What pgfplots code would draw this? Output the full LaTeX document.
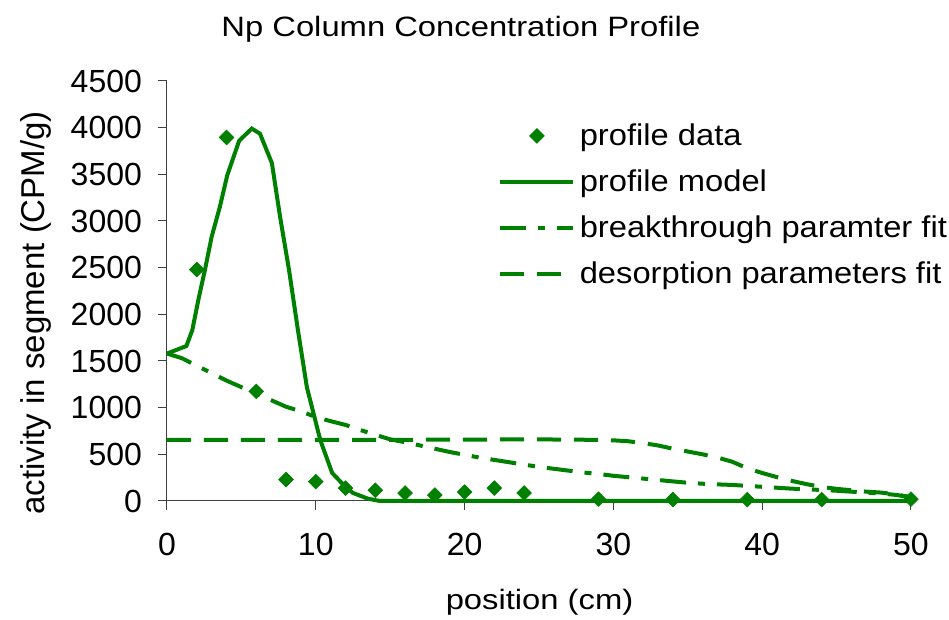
\documentclass[border=0pt]{standalone}
\usepackage{fontspec}
\setmainfont{Liberation Sans}
\newfontfamily\titlefont[FakeStretch=1.17]{Liberation Sans}
\newfontfamily\legfont[FakeStretch=1.09]{Liberation Sans}
\usepackage{pgfplots}
\pgfplotsset{compat=1.18}
\definecolor{xlgreen}{RGB}{0,128,0}
\begin{document}
\begin{tikzpicture}
\useasboundingbox (0,0) rectangle (474.5pt,310pt);
\begin{axis}[
  at={(83.5pt,59.5pt)}, anchor=south west,
  scale only axis, width=372pt, height=210pt,
  xmin=0, xmax=50, ymin=0, ymax=4500,
  axis lines=left,
  axis line style={-, draw=black!75, line width=0.5pt},
  xtick={0,10,...,50}, ytick={0,500,...,4500},
  tick align=outside, major tick length=4.5pt,
  tick style={draw=black!75, line width=0.5pt},
  /pgf/number format/assume math mode=true,
  /pgf/number format/1000 sep={},
  scaled y ticks=false,
  ticklabel style={font=\fontsize{16}{19}\selectfont},
  xticklabel style={yshift=-8pt},
  yticklabel style={xshift=-4.5pt},
  clip=false,
  every axis title shift=0pt,
  title={Np Column Concentration Profile},
  title style={at={(0.395,1.105)}, anchor=base, yshift=0pt, font=\titlefont\fontsize{14}{17}\selectfont},
  xlabel={position (cm)},
  xlabel style={at={(0.5007,-0.2595)}, anchor=base, font=\titlefont\fontsize{14}{17}\selectfont},
  ylabel={activity in segment (CPM/g)},
  ylabel style={at={(-0.176,0.448)}, anchor=center, font=\fontsize{16.5}{19}\selectfont},
  legend cell align=left,
  reverse legend,
  legend image code/.code={\draw[mark repeat=2,mark phase=2,#1] plot coordinates {(0pt,4.75pt)(18.25pt,4.75pt)(36.5pt,4.75pt)};},
  legend style={draw=none, fill=none, at={(0.4449,0.9024)}, anchor=north west,
    font=\legfont\fontsize{15}{18}\selectfont, row sep=0pt, column sep=2.2pt, inner sep=0pt,
    nodes={inner xsep=0pt, inner ysep=0pt, text height=11.5pt, text depth=11.5pt}},
]
% desorption parameters fit
\addplot[xlgreen, line width=2pt, dash pattern=on 12pt off 6.5pt] coordinates {
(0,655)(5,655)(10,655)(15,655)(20,658)(25,660)(29,655)(30,650)(31,640)(32,620)(33,595)
(34,560)(35,530)(36,500)(37,465)(38,420)(39,350)(40,300)(41,255)(42,215)(43,180)
(44,150)(45,130)(46,115)(47,100)(48,90)(49,70)(50,40)};
\addlegendentry{desorption parameters fit}
% breakthrough parameter fit
\addplot[xlgreen, line width=2pt, dash pattern=on 13pt off 6pt on 3.5pt off 6pt] coordinates {
(0,1580)(1,1530)(2,1450)(3,1370)(4,1290)(5,1220)(6,1150)(7,1080)(8,1010)(9,960)
(10,900)(11,855)(12,815)(13,760)(14,710)(15,660)(16,630)(17,595)(18,560)(19,525)
(20,495)(21,465)(22,440)(23,415)(24,390)(25,365)(26,345)(27,325)(28,305)(29,290)
(30,270)(31,255)(32,240)(33,225)(34,210)(35,195)(36,185)(37,178)(38,172)(39,162)
(40,152)(41,142)(42,132)(43,125)(44,118)(45,110)(46,100)(47,90)(48,80)(49,65)(50,40)};
\addlegendentry{breakthrough paramter fit}
% profile model
\addplot[xlgreen, line width=2pt] coordinates {
(0,1580)(1.3,1660)(1.7,1830)(2.1,2150)(2.55,2476)(3,2830)(3.55,3150)(4.05,3490)
(4.85,3860)(5.7,3990)(6.25,3935)(7.05,3620)(7.6,3045)(8.2,2476)(8.8,1830)(9.4,1220)
(10.3,654)(11.1,300)(12.0,150)(12.5,86)(13.5,25)(14.3,0)(20,0)(30,0)(40,0)(50,0)};
\addlegendentry{profile model}
% profile data
\addplot[only marks, mark=square*, mark size=2.6pt,
  mark options={rotate=45, fill=xlgreen, draw=xlgreen, line width=0.3pt, solid}] coordinates {
(2,2480)(4,3895)(6,1175)(8,230)(10,208)(12,138)(14,115)(16,85)(18,63)(20,96)
(22,138)(24,86)(29,20)(34,15)(39,15)(44,15)(50,20)};
\addlegendentry{profile data}
\end{axis}
\end{tikzpicture}
\end{document}
